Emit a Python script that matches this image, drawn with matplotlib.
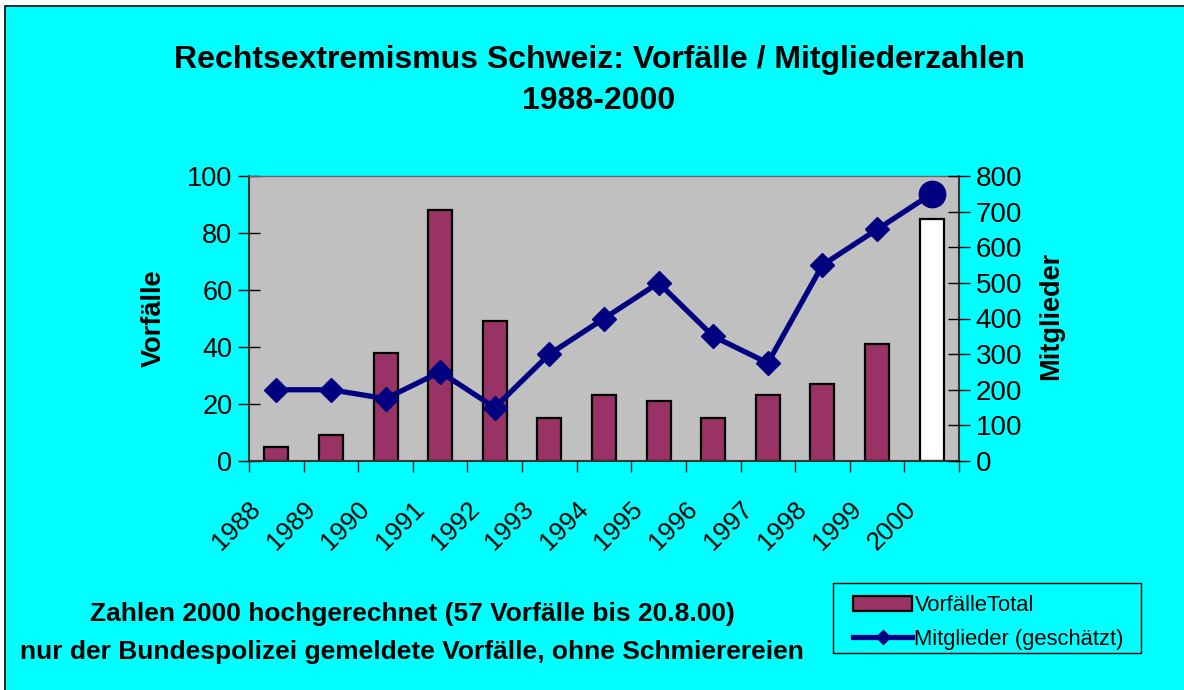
import matplotlib
matplotlib.use("Agg")
import matplotlib.pyplot as plt
import matplotlib.transforms as mtransforms
from matplotlib.patches import Rectangle
from matplotlib.lines import Line2D
from matplotlib.patches import Patch

plt.rcParams['font.family'] = ['Liberation Sans', 'DejaVu Sans']

years = ['1988', '1989', '1990', '1991', '1992', '1993', '1994',
         '1995', '1996', '1997', '1998', '1999', '2000']
vorfaelle = [5, 9, 38, 88, 49, 15, 23, 21, 15, 23, 27, 41, 85]
mitglieder = [200, 200, 175, 250, 150, 300, 400, 500, 350, 275, 550, 650, 750]
left_ticks = [0, 20, 40, 60, 80, 100]
right_ticks = [0, 100, 200, 300, 400, 500, 600, 700, 800]

title = "Rechtsextremismus Schweiz: Vorfälle / Mitgliederzahlen\n1988-2000"
note = "Zahlen 2000 hochgerechnet (57 Vorfälle bis 20.8.00)\nnur der Bundespolizei gemeldete Vorfälle, ohne Schmierereien"

CYAN = '#00FFFF'
GREY = '#C0C0C0'
BAR = '#993366'
NAVY = '#000080'

W, H = 1184, 690
fig = plt.figure(figsize=(W / 100, H / 100), dpi=100, facecolor='white')
fig.patches.append(Rectangle((5 / W, -0.1), 1.2, 1 - 6 / H + 0.1, transform=fig.transFigure,
                             facecolor=CYAN, edgecolor='black', linewidth=1.2, zorder=-10))

ax = fig.add_axes([249 / W, 1 - 461 / H, (959 - 249) / W, (461 - 176) / H])
ax.set_facecolor(GREY)
x = list(range(len(years)))
colors = [BAR] * (len(years) - 1) + ['white']
ax.bar(x, vorfaelle, width=0.44, color=colors, edgecolor='black', linewidth=1.6, zorder=2)
ax.set_xlim(-0.5, len(years) - 0.5)
ax.set_ylim(0, 100)
ax.set_yticks(left_ticks)
ax.tick_params(axis='y', direction='inout', length=16, width=1, labelsize=19.5, pad=4, colors='black')
ax.set_ylabel('Vorfälle', fontsize=19.5, fontweight='bold')
ax.yaxis.set_label_coords(167 / W, 1 - 318 / H, transform=fig.transFigure)

ax.set_xticks(x)
ax.set_xticklabels(years, rotation=45, ha='right', va='top', fontsize=18.5)
ax.tick_params(axis='x', length=0, pad=26)
ax.set_xticks([i + 0.5 for i in range(-1, len(years))], minor=True)
ax.tick_params(axis='x', which='minor', direction='out', length=8, width=1, color='#222222')
offset = mtransforms.ScaledTranslation(-11 / 100, 0, fig.dpi_scale_trans)
for lab in ax.get_xticklabels():
    lab.set_transform(lab.get_transform() + offset)

for s in ['left', 'right', 'bottom']:
    ax.spines[s].set_color('#333333')
    ax.spines[s].set_linewidth(1.5)
ax.spines['top'].set_color('#666666')
ax.spines['top'].set_linewidth(1.0)

ax2 = ax.twinx()
ax2.plot(x[:-1], mitglieder[:-1], color=NAVY, linewidth=3.8, marker='D', markersize=12, zorder=3)
ax2.plot(x[-2:], mitglieder[-2:], color=NAVY, linewidth=3.8, zorder=3)
ax2.plot(x[-1:], mitglieder[-1:], color=NAVY, marker='o', markersize=19, linestyle='none', zorder=4)
ax2.set_ylim(0, 800)
ax2.set_yticks(right_ticks)
ax2.tick_params(axis='y', direction='inout', length=16, width=1, labelsize=20, pad=4)
ax2.set_ylabel('Mitglieder', fontsize=19.5, fontweight='bold')
ax2.yaxis.set_label_coords(1038 / W, 1 - 316 / H, transform=fig.transFigure)
for s in ['left', 'right', 'bottom', 'top']:
    ax2.spines[s].set_visible(False)

fig.text(599 / W, 1 - 80.5 / H, title, ha='center', va='center', fontsize=23,
         fontweight='bold', linespacing=1.52)
fig.text(412 / W, 1 - 633 / H, note, ha='center', va='center', fontsize=19,
         fontweight='bold', linespacing=1.74)

# legend frame
fig.patches.append(Rectangle((833 / W, 1 - 653 / H), (1141 - 833) / W, 70 / H,
                             transform=fig.transFigure, facecolor=CYAN,
                             edgecolor='black', linewidth=1.0, zorder=1))
handles = [Patch(facecolor=BAR, edgecolor='black', linewidth=1.6),
           Line2D([0], [0], color=NAVY, linewidth=3.8, marker='D', markersize=7)]
leg = fig.legend(handles, ['VorfälleTotal', 'Mitglieder (geschätzt)'],
                 loc='upper left', bbox_to_anchor=(853 / W, 1 - 595 / H),
                 fontsize=15.8, frameon=False, handlelength=2.7, handleheight=0.7,
                 handletextpad=0.1, borderpad=0, labelspacing=0.6, borderaxespad=0)

fig.savefig('out.png', dpi=100, facecolor=fig.get_facecolor())
